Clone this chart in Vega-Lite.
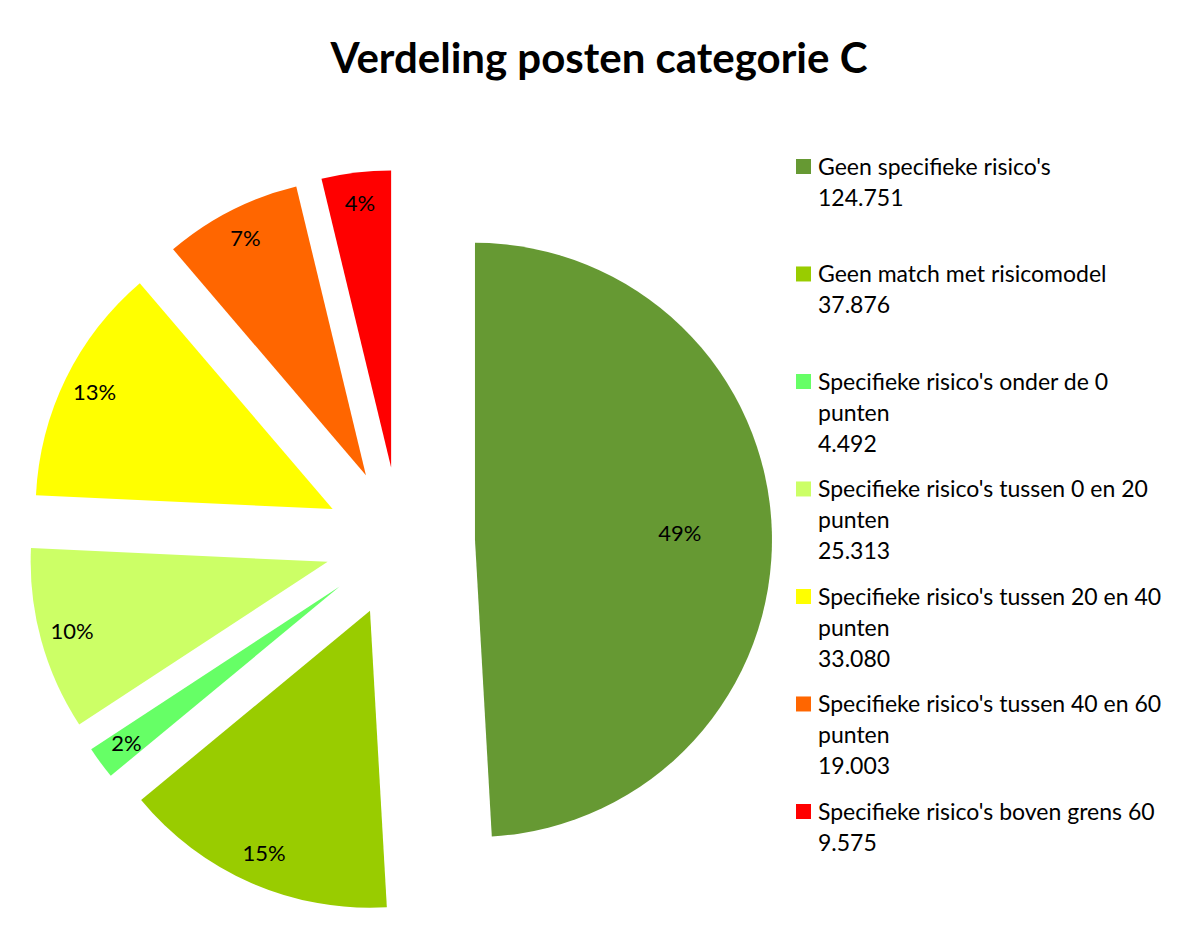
{
  "$schema": "https://vega.github.io/schema/vega-lite/v6.json",
  "width": 780,
  "height": 758,
  "padding": {"left": 10, "top": 39, "right": 0, "bottom": 0},
  "background": "white",
  "title": {
    "text": "Verdeling posten categorie C",
    "font": "Lato",
    "fontSize": 42,
    "fontWeight": "bold",
    "color": "#000000",
    "anchor": "middle",
    "frame": "bounds",
    "dx": 13,
    "offset": 81
  },
  "data": {
    "values": [
      {"volgorde": 1, "categorie": "Geen specifieke risico's", "aantal": 124751, "pct": "49%", "legenda": "Geen specifieke risico's|124.751|"},
      {"volgorde": 2, "categorie": "Geen match met risicomodel", "aantal": 37876, "pct": "15%", "legenda": "Geen match met risicomodel|37.876|"},
      {"volgorde": 3, "categorie": "Specifieke risico's onder de 0 punten", "aantal": 4492, "pct": "2%", "legenda": "Specifieke risico's onder de 0|punten|4.492"},
      {"volgorde": 4, "categorie": "Specifieke risico's tussen 0 en 20 punten", "aantal": 25313, "pct": "10%", "legenda": "Specifieke risico's tussen 0 en 20|punten|25.313"},
      {"volgorde": 5, "categorie": "Specifieke risico's tussen 20 en 40 punten", "aantal": 33080, "pct": "13%", "legenda": "Specifieke risico's tussen 20 en 40|punten|33.080"},
      {"volgorde": 6, "categorie": "Specifieke risico's tussen 40 en 60 punten", "aantal": 19003, "pct": "7%", "legenda": "Specifieke risico's tussen 40 en 60|punten|19.003"},
      {"volgorde": 7, "categorie": "Specifieke risico's boven grens 60", "aantal": 9575, "pct": "4%", "legenda": "Specifieke risico's boven grens 60|9.575|"}
    ]
  },
  "encoding": {
    "theta": {"field": "aantal", "type": "quantitative", "stack": true},
    "order": {"field": "volgorde", "type": "quantitative", "sort": "ascending"}
  },
  "layer": [
    {
      "mark": {
        "type": "arc",
        "outerRadius": 297,
        "xOffset": {"expr": "75*sin(scale('theta', (datum.aantal_start + datum.aantal_end)/2))"},
        "yOffset": {"expr": "-75*cos(scale('theta', (datum.aantal_start + datum.aantal_end)/2))"}
      },
      "encoding": {
        "color": {
          "field": "legenda",
          "type": "nominal",
          "scale": {
            "domain": [
              "Geen specifieke risico's|124.751|",
              "Geen match met risicomodel|37.876|",
              "Specifieke risico's onder de 0|punten|4.492",
              "Specifieke risico's tussen 0 en 20|punten|25.313",
              "Specifieke risico's tussen 20 en 40|punten|33.080",
              "Specifieke risico's tussen 40 en 60|punten|19.003",
              "Specifieke risico's boven grens 60|9.575|"
            ],
            "range": ["#669933", "#99CC00", "#66FF66", "#CCFF66", "#FFFF00", "#FF6600", "#FF0000"]
          },
          "legend": {
            "title": null,
            "orient": "right",
            "offset": 2,
            "padding": 0,
            "labelExpr": "split(datum.label, '|')",
            "labelFont": "Lato",
            "labelFontSize": 23,
            "labelColor": "#000000",
            "labelLimit": 400,
            "labelBaseline": "alphabetic",
            "labelOffset": 3,
            "symbolType": "M-1,-2.07H1V-0.07H-1Z",
            "symbolSize": 225,
            "symbolStrokeWidth": 0,
            "symbolOpacity": 1,
            "rowPadding": 21.5
          }
        }
      }
    },
    {
      "mark": {
        "type": "text",
        "font": "Lato",
        "fontSize": 22,
        "color": "#000000",
        "align": "center",
        "baseline": "middle",
        "radius": {"expr": "datum.aantal > 100000 ? 205 : 265"},
        "xOffset": {"expr": "75*sin(scale('theta', (datum.aantal_start + datum.aantal_end)/2))"},
        "yOffset": {"expr": "-75*cos(scale('theta', (datum.aantal_start + datum.aantal_end)/2))"}
      },
      "encoding": {
        "text": {"field": "pct", "type": "nominal"}
      }
    }
  ],
  "config": {
    "view": {"stroke": null},
    "style": {"guide-label": {"lineHeight": 31}}
  }
}
